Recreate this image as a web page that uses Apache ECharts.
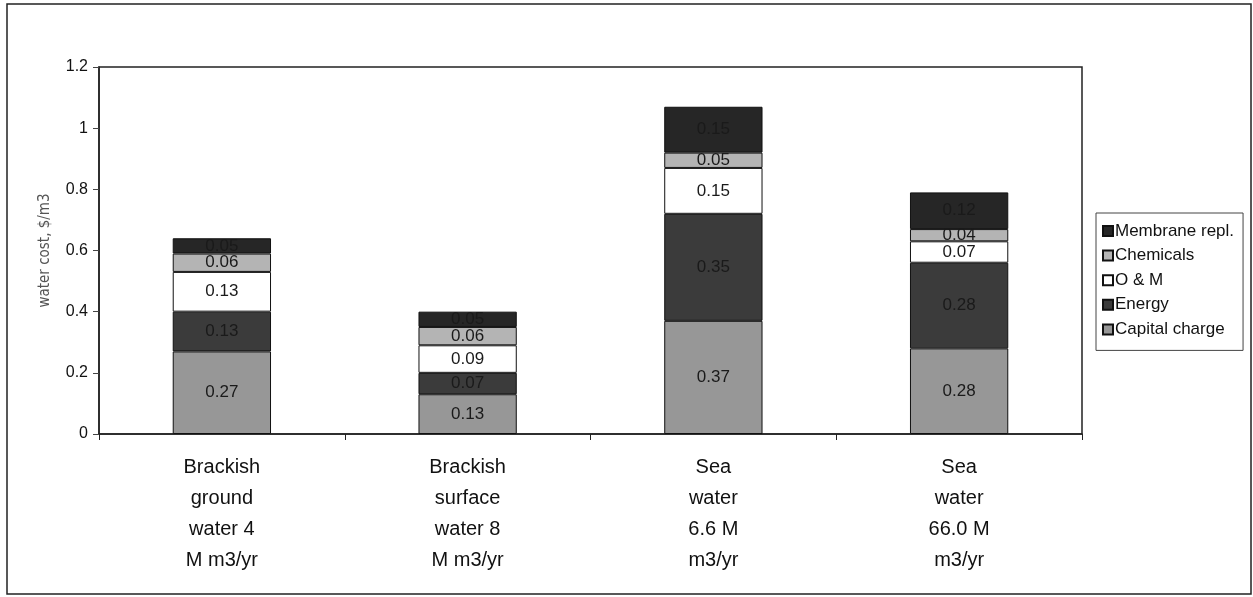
<!DOCTYPE html>
<html>
<head>
<meta charset="utf-8">
<script src="https://cdn.jsdelivr.net/npm/echarts@6/dist/echarts.min.js"></script>
<style>
html,body{margin:0;padding:0;background:#fff;}
#chart{width:1253px;height:597px;}
</style>
</head>
<body>
<div id="chart"></div>
<script>
const categories = [
  "Brackish\nground\nwater 4\nM m3/yr",
  "Brackish\nsurface\nwater 8\nM m3/yr",
  "Sea\nwater\n6.6 M\nm3/yr",
  "Sea\nwater\n66.0 M\nm3/yr"
];
const capitalCharge = [0.27, 0.13, 0.37, 0.28];
const energy = [0.13, 0.07, 0.35, 0.28];
const oAndM = [0.13, 0.09, 0.15, 0.07];
const chemicals = [0.06, 0.06, 0.05, 0.04];
const membraneRepl = [0.05, 0.05, 0.15, 0.12];
const yTicks = [0, 0.2, 0.4, 0.6, 0.8, 1, 1.2];

const seriesDefs = [
  {name: "Capital charge", data: capitalCharge, color: "#979797", label: "#1a1a1a"},
  {name: "Energy", data: energy, color: "#3b3b3b", label: "#1a1a1a"},
  {name: "O & M", data: oAndM, color: "#ffffff", label: "#1a1a1a"},
  {name: "Chemicals", data: chemicals, color: "#b4b4b4", label: "#1a1a1a"},
  {name: "Membrane repl.", data: membraneRepl, color: "#262626", label: "#1a1a1a"}
];

const chart = echarts.init(document.getElementById('chart'));
const font = "'Liberation Sans', Arial, sans-serif";
chart.setOption({
  animation: false,
  backgroundColor: '#fff',
  textStyle: {fontFamily: font},
  graphic: [{
    type: 'rect', shape: {x: 7, y: 4, width: 1244, height: 590},
    style: {fill: 'none', stroke: '#222', lineWidth: 1.5}, silent: true, z: -1
  }],
  grid: {left: 99, right: 171, top: 67, bottom: 163, show: true, borderColor: '#222', borderWidth: 1.5, backgroundColor: 'transparent'},
  legend: {
    orient: 'vertical', left: 1096, top: 213,
    data: ["Membrane repl.", "Chemicals", "O & M", "Energy", "Capital charge"],
    itemWidth: 10, itemHeight: 10, itemGap: 6.6, icon: 'rect',
    padding: [9, 9, 12, 6],
    borderColor: '#444', borderWidth: 1,
    textStyle: {fontFamily: font, fontSize: 17, color: '#111', padding: [0,0,0,-3], lineHeight: 18},
    selectedMode: false
  },
  xAxis: {
    type: 'category', data: categories,
    axisLine: {lineStyle: {color: '#222', width: 1.5}},
    axisTick: {show: true, alignWithLabel: false, length: 6, lineStyle: {color: '#222'}},
    axisLabel: {fontFamily: font, fontSize: 20, color: '#111', lineHeight: 31, margin: 18, interval: 0},
    splitLine: {show: false}
  },
  yAxis: {
    type: 'value', min: 0, max: 1.2, interval: 0.2,
    name: 'water cost, $/m3', nameLocation: 'middle', nameGap: 46, nameRotate: 90,
    nameTextStyle: {fontFamily: "'DejaVu Sans Condensed', 'DejaVu Sans', sans-serif", fontSize: 15, color: '#555'},
    axisLine: {show: true, lineStyle: {color: '#222', width: 1.5}},
    axisTick: {show: true, length: 6, lineStyle: {color: '#444'}},
    axisLabel: {fontFamily: font, fontSize: 16, color: '#111', margin: 11,
      formatter: v => yTicks.includes(Math.round(v*10)/10) ? String(Math.round(v*10)/10) : ''},
    splitLine: {show: false}
  },
  series: seriesDefs.map(s => ({
    name: s.name, type: 'bar', stack: 'total', data: s.data,
    barWidth: '40%',
    itemStyle: {color: s.color, borderColor: '#111', borderWidth: 1},
    label: {show: true, position: 'inside', fontFamily: font, fontSize: 17, color: s.label,
      formatter: p => p.value.toFixed(2)}
  }))
});
</script>
</body>
</html>
